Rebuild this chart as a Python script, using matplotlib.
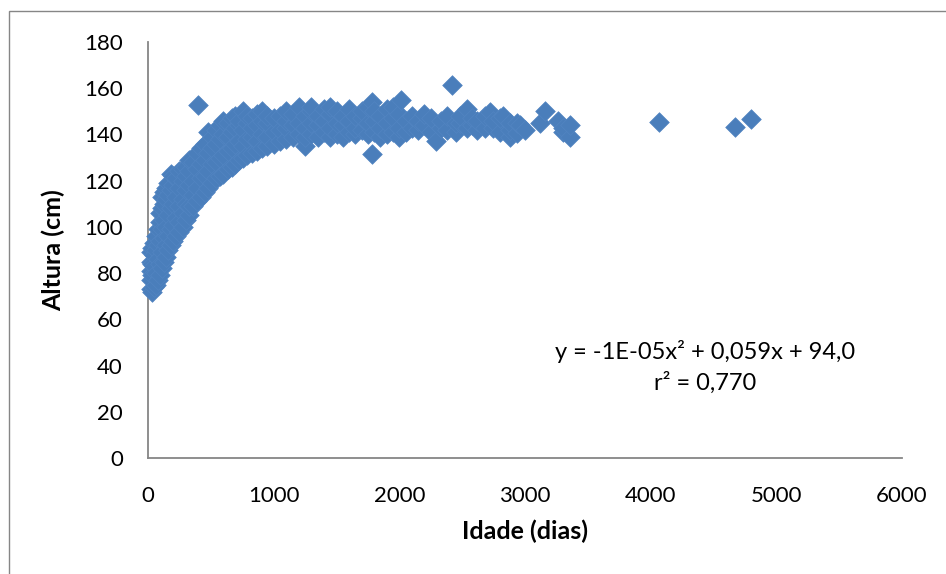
import numpy as np
import matplotlib
matplotlib.use("Agg")
import matplotlib.pyplot as plt
from matplotlib.patches import Rectangle

#### Altura x Idade (colunas de idade, alturas em cada coluna)
idade_col = [20, 35, 50, 65, 80, 95, 110, 125, 140, 160, 180, 200, 225, 250, 275,
             300, 330, 360, 390, 398, 420, 450, 480, 510, 540, 570, 600, 635, 665,
             695, 725, 756, 790, 830, 870, 907, 950, 1000, 1050, 1100, 1150, 1200,
             1250, 1300, 1350, 1400, 1450, 1500, 1550, 1600, 1650, 1700, 1750,
             1780, 1800, 1850, 1900, 1950, 2000, 2013, 2050, 2100, 2150, 2200,
             2250, 2292, 2330, 2380, 2419, 2450, 2483, 2538, 2580, 2618, 2680,
             2721, 2745, 2800, 2825, 2880, 2936, 2960, 3000, 3119, 3159, 3263,
             3300, 3358, 4066, 4671, 4798]

altura_col = [
    [73, 77, 81, 85, 89], [72, 79, 84, 91], [74, 83, 88, 93], [75, 80, 90, 96],
    [77, 86, 92, 99], [79, 84, 94, 102, 106], [82, 89, 99, 108, 113],
    [85, 95, 103, 110, 115], [87, 92, 100, 112, 117], [90, 96, 105, 114, 119],
    [92, 99, 108, 116, 123], [94, 101, 110, 118, 122], [96, 104, 113, 121],
    [98, 102, 109, 117, 124], [100, 106, 112, 120, 125], [103, 110, 116, 122, 126],
    [105, 109, 118, 124, 129], [109, 114, 120, 128], [111, 117, 125, 132], [152.7],
    [113, 121, 127, 134], [115, 122, 129, 136], [117, 124, 132, 141],
    [119, 127, 134, 139], [121, 128, 136, 142], [122, 130, 138, 144],
    [123, 131, 140, 146], [125, 133, 139, 145], [126, 134, 141, 147],
    [127, 136, 143, 148], [129, 137, 144, 146], [130, 135, 142, 150],
    [131, 138, 145, 148], [132, 139, 143, 147], [133, 137, 144, 149],
    [134, 140, 146, 150], [135, 139, 145, 148], [136, 141, 147], [137, 142, 148],
    [138, 143, 146, 150], [139, 144, 149], [140, 145, 152], [135, 139, 143, 148],
    [140, 145, 150, 152], [139, 144, 148], [141, 146, 151], [139, 143, 149, 152],
    [140, 145, 150], [139, 144, 148], [141, 146, 151], [140, 143, 148],
    [142, 147, 150], [140, 145, 152], [131.5, 154], [141, 146, 150],
    [139, 143, 148], [140, 145, 151], [141, 147, 152], [139, 143, 149], [155],
    [141, 146], [143, 148], [142, 146], [144, 149], [141, 147], [137], [143, 146],
    [142, 148], [161.5], [141, 145], [145, 148], [143, 151], [144, 147],
    [142, 146], [143, 148], [149.5], [143, 146], [141, 147], [148],
    [139, 142, 145], [140.5, 145], [144], [142], [145], [150], [146], [141, 143],
    [139, 144], [145.4], [143.2], [146.7]]

eq_texto = "y = -1E-05x² + 0,059x + 94,0"
r2_texto = "r² = 0,770"

idade = np.concatenate([[a] * len(h) for a, h in zip(idade_col, altura_col)])
altura = np.concatenate(altura_col)

plt.rcParams['font.family'] = ['Lato', 'DejaVu Sans']

fig = plt.figure(figsize=(9.46, 5.74), dpi=100)
ax = fig.add_axes([148 / 946, 1 - 458 / 574, (902 - 148) / 946, (458 - 42) / 574])

#### moldura externa (estilo Excel)
fig.patches.append(Rectangle((9 / 946, -0.1), 1.2, 1.1 - 11 / 574, transform=fig.transFigure,
                             fill=False, edgecolor='#868686', linewidth=1.0))

ax.scatter(idade, altura, marker='D', s=100, facecolor='#4A7EBB',
           edgecolor='#5285C2', linewidth=0.5, zorder=3, clip_on=False)

ax.set_xlim(0, 6000)
ax.set_ylim(0, 180)
ax.set_xticks(range(0, 6001, 1000))
ax.set_yticks(range(0, 181, 20))
ax.tick_params(length=0, labelsize=16, colors='black')
ax.tick_params(axis='x', pad=20)
ax.tick_params(axis='y', pad=18)

for s in ['top', 'right']:
    ax.spines[s].set_visible(False)
for s in ['left', 'bottom']:
    ax.spines[s].set_color('#868686')
    ax.spines[s].set_linewidth(1.3)

ax.set_xlabel("Idade (dias)", fontsize=18, fontweight='bold', labelpad=10)
ax.set_ylabel("Altura (cm)", fontsize=18, fontweight='bold', labelpad=14)

ax.text(4435, 46, eq_texto, fontsize=17, ha='center', va='center')
ax.text(4435, 32.5, r2_texto, fontsize=17, ha='center', va='center')

fig.savefig("out.png", dpi=100)
